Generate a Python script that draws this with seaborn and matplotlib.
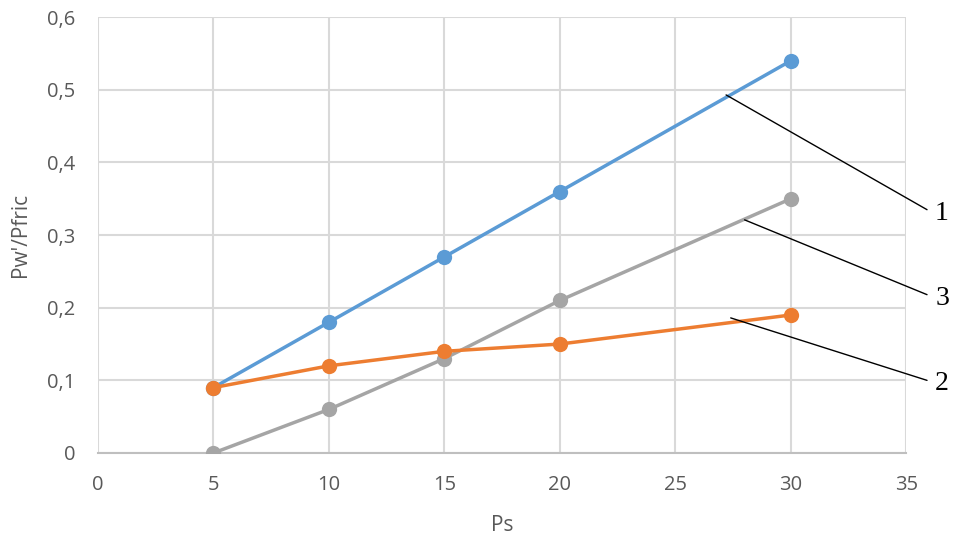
import matplotlib
matplotlib.use("Agg")
import matplotlib.pyplot as plt
import seaborn as sns
import pandas as pd
from matplotlib.ticker import FuncFormatter, MultipleLocator

ps = [5, 10, 15, 20, 30]
series1 = [0.09, 0.18, 0.27, 0.36, 0.54]
series2 = [0.09, 0.12, 0.14, 0.15, 0.19]
series3 = [0.0, 0.06, 0.13, 0.21, 0.35]
names = ["1", "2", "3"]
colors = {"1": "#5b9bd5", "2": "#ed7d31", "3": "#a5a5a5"}
# annotation: (label, anchor x, anchor y, label x, label y)
annots = [("1", 27.2, 0.493, 35.9, 0.335),
          ("3", 28.0, 0.321, 35.9, 0.218),
          ("2", 27.4, 0.186, 35.9, 0.100)]

df = pd.concat([
    pd.DataFrame({"Ps": ps, "val": s, "series": n})
    for n, s in zip(names, [series1, series2, series3])
])

sns.set_theme(style="white")
plt.rcParams['font.family'] = ['Open Sans', 'DejaVu Sans']

fig = plt.figure(figsize=(9.6, 5.38), dpi=100)
ax = fig.add_axes([0.102, 0.158, 0.842, 0.810])

for n in ["1", "3", "2"]:
    sub = df[df.series == n]
    sns.lineplot(data=sub, x="Ps", y="val", ax=ax, color=colors[n], lw=2.5,
                 marker="o", markersize=11, markeredgewidth=0, legend=False,
                 zorder=3)

ax.set_xlim(0, 35)
ax.set_ylim(0, 0.6)
ax.xaxis.set_major_locator(MultipleLocator(5))
ax.yaxis.set_major_locator(MultipleLocator(0.1))
ax.yaxis.set_major_formatter(FuncFormatter(lambda v, p: "0" if abs(v) < 1e-9 else f"{v:.1f}".replace(".", ",")))
ax.grid(True, color="#d9d9d9", lw=1.5)
ax.set_axisbelow(True)
for s in ["top", "right", "left"]:
    ax.spines[s].set_visible(False)
ax.spines["bottom"].set_color("#bfbfbf")
ax.spines["bottom"].set_linewidth(1.5)
ax.tick_params(axis="both", length=0, labelsize=14.5, colors="#595959")
ax.tick_params(axis="x", pad=16)
ax.tick_params(axis="y", pad=16)
ax.set_xlabel("Ps", fontsize=15, color="#595959", labelpad=14)
ax.set_ylabel("Pw'/Pfric", fontsize=15, color="#595959", labelpad=12)

for lab, x0, y0, x1, y1 in annots:
    ax.annotate("", xy=(x0, y0), xytext=(x1, y1),
                arrowprops=dict(arrowstyle="-", color="black", lw=1, shrinkA=0, shrinkB=0),
                annotation_clip=False)
    ax.text(x1 + 0.35, y1 - 0.005, lab, fontsize=20, family="Liberation Serif",
            ha="left", va="center", color="black", clip_on=False)

fig.savefig("out.png", dpi=100)
